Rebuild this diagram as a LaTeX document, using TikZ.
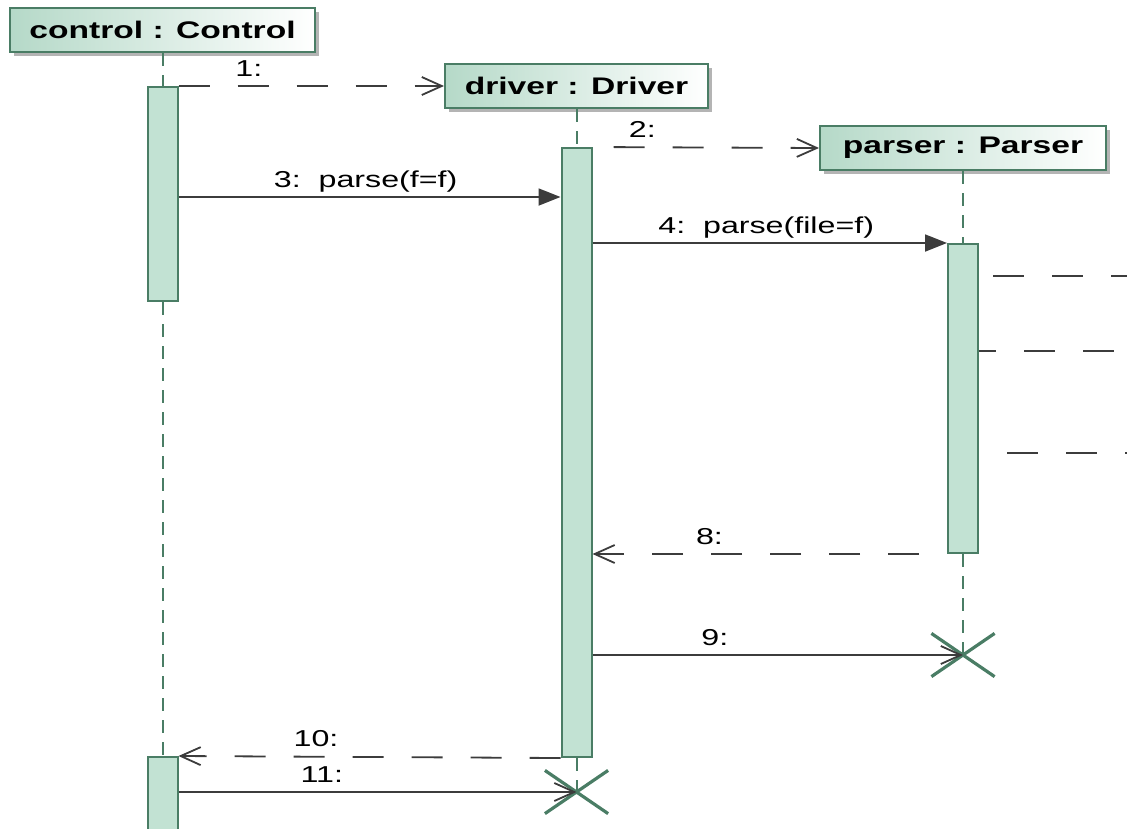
\documentclass[tikz,border=0pt]{standalone}
\usepackage{fontspec}
\setmainfont{Liberation Sans}[FakeStretch=1.4]
\usepackage{xcolor}
\usepackage{tikz}
\usetikzlibrary{arrows.meta,positioning,shadows,shapes.misc}
\definecolor{umlgreen}{HTML}{4A7D65}
\definecolor{barfill}{HTML}{C2E2D3}
\definecolor{headfill}{HTML}{B5D9C8}
\definecolor{shadowgray}{HTML}{B4B4B4}
\definecolor{msggray}{HTML}{3C3C3C}

\begin{document}
\begin{tikzpicture}[x=1pt, y=-1pt,
  head/.style={rectangle, draw=umlgreen, line width=2pt, left color=headfill, right color=white, minimum height=44pt, inner xsep=4pt, font=\bfseries\fontsize{24}{28}\selectfont, drop shadow={shadow xshift=4pt, shadow yshift=-4pt, fill=shadowgray, opacity=1}},
  bar/.style={rectangle, draw=umlgreen, fill=barfill, line width=2pt, minimum width=30pt, inner sep=0pt, anchor=north},
  lifeline/.style={draw=umlgreen, line width=2pt, dash pattern=on 13pt off 9pt},
  destroy/.style={cross out, draw=umlgreen, line width=3.2pt, minimum width=60pt, minimum height=40pt, inner sep=0pt},
  call/.style={draw=msggray, line width=1.8pt, -{Triangle[length=22pt, width=17pt]}},
  send/.style={draw=msggray, line width=1.8pt, -{Straight Barb[length=20pt, width=18pt]}},
  reply/.style={send, dash pattern=on 31pt off 28pt},
  cut/.style={draw=msggray, line width=1.8pt, dash pattern=on 31pt off 28pt},
  lbl/.style={anchor=base, yshift=10pt, font=\fontsize{23}{26}\selectfont, text=black}
]
\useasboundingbox (0,0) rectangle (1127,828);
\clip (0,0) rectangle (1127,828);

\node[head, minimum width=305pt] (control) at (162.5,30) {control : Control};
\node[head, minimum width=263pt] (driver) at (576.5,86) {driver : Driver};
\node[head, minimum width=286pt] (parser) at (963,148) {parser : Parser};

\node[bar, minimum height=214pt] (cbar1) at (162.5,86) {};
\node[bar, minimum height=100pt] (cbar2) at (162.5,756) {};
\node[bar, minimum height=609pt] (dbar) at (576.5,147) {};
\node[bar, minimum height=309pt] (pbar) at (963,243) {};

\node[destroy] (px) at (963,655) {};
\node[destroy] (dx) at (576.5,792) {};

\draw[lifeline] (control.south) -- (cbar1.north);
\draw[lifeline] (cbar1.south) -- (cbar2.north);
\draw[lifeline] (driver.south) -- (dbar.north);
\draw[lifeline] (dbar.south) -- (dx.center);
\draw[lifeline] (parser.south) -- (pbar.north);
\draw[lifeline] (pbar.south) -- (px.center);

\coordinate (m3) at (0,197);
\coordinate (m5) at (1140,276);
\coordinate (m6) at (1140,351);
\coordinate (m7) at (1140,453);

\draw[reply] (cbar1.north east) -- (driver.west) node[lbl, pos=0.265] {1:};
\draw[reply, dash phase=38pt] (dbar.north east) -- (parser.west) node[lbl, pos=0.22] {2:};
\draw[call] (cbar1.east |- m3) -- (dbar.west |- m3) node[lbl, pos=0.49] {3:\ \ parse(f=f)};
\draw[call] (dbar.east |- pbar.north) -- (pbar.north west) node[lbl, pos=0.49] {4:\ \ parse(file=f)};
\draw[cut, dash phase=45pt] (pbar.east |- m5) -- (m5);
\draw[cut, dash phase=14pt] (pbar.east |- m6) -- (m6);
\draw[cut, dash phase=31pt] (pbar.east |- m7) -- (m7);
\draw[reply, dash phase=31pt] (pbar.south west) -- (dbar.east |- pbar.south) node[lbl, pos=0.67] {8:};
\draw[send] (dbar.east |- px) -- (px.center) node[lbl, pos=0.33] {9:};
\draw[reply] (dbar.south west) -- (cbar2.north east) node[lbl, pos=0.64] {10:};
\draw[send] (cbar2.east |- dx) -- (dx.center) node[lbl, pos=0.36] {11:};
\end{tikzpicture}
\end{document}
